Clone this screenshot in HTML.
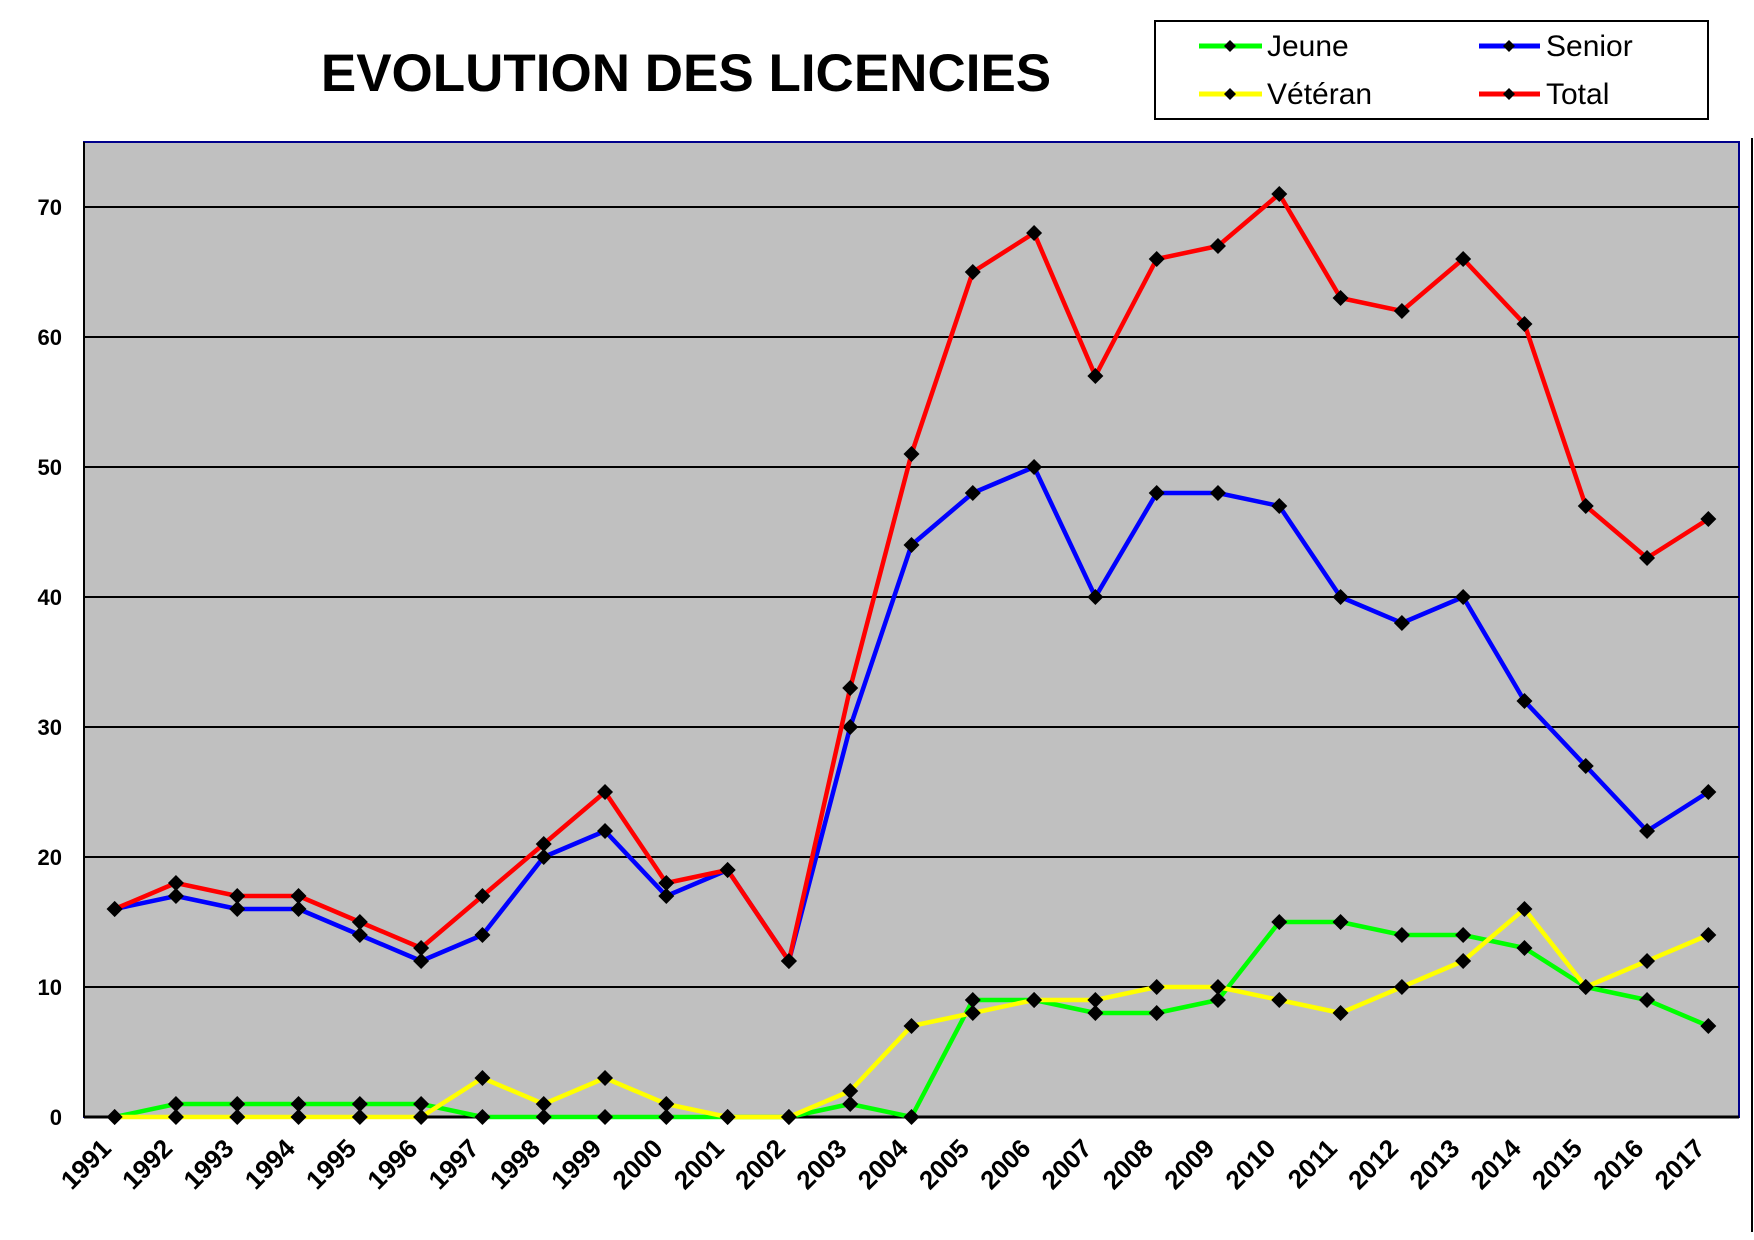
<!DOCTYPE html>
<html><head><meta charset="utf-8"><style>
html,body{margin:0;padding:0;background:#fff}
svg{display:block;font-family:"Liberation Sans",Arial,sans-serif}
</style></head><body>
<svg id="chart" width="1754" height="1240" viewBox="0 0 1754 1240">
<text x="686" y="91" text-anchor="middle" font-size="53" font-weight="bold">EVOLUTION DES LICENCIES</text>
<rect x="84" y="142" width="1655" height="975" fill="#c0c0c0" stroke="#00008b" stroke-width="2"/>
<line x1="84" y1="1117" x2="1739" y2="1117" stroke="#000" stroke-width="3"/>
<line x1="84" y1="142" x2="84" y2="1117" stroke="#000" stroke-width="2"/>
<line x1="1752" y1="138" x2="1752" y2="1232" stroke="#000" stroke-width="2"/>
<g id="grid"></g><g id="yticks"></g><g id="xticks"></g><g id="series"></g>
<g>
<rect x="1155" y="21" width="553" height="98" fill="#fff" stroke="#000" stroke-width="2"/>
<g><line x1="1199" y1="46" x2="1262" y2="46" stroke="#00ff00" stroke-width="5"/><path d="M1230,40 L1236,46 L1230,52 L1224,46Z"/><text x="1267" y="56" font-size="30">Jeune</text></g>
<g><line x1="1479" y1="46" x2="1540" y2="46" stroke="#0000ff" stroke-width="5"/><path d="M1509,40 L1515,46 L1509,52 L1503,46Z"/><text x="1546" y="56" font-size="30">Senior</text></g>
<g><line x1="1199" y1="94" x2="1262" y2="94" stroke="#ffff00" stroke-width="5"/><path d="M1230,88 L1236,94 L1230,100 L1224,94Z"/><text x="1267" y="104" font-size="30">Vétéran</text></g>
<g><line x1="1479" y1="94" x2="1540" y2="94" stroke="#ff0000" stroke-width="5"/><path d="M1509,88 L1515,94 L1509,100 L1503,94Z"/><text x="1546" y="104" font-size="30">Total</text></g>
</g>
</svg>
<script>
const years=[1991,1992,1993,1994,1995,1996,1997,1998,1999,2000,2001,2002,2003,2004,2005,2006,2007,2008,2009,2010,2011,2012,2013,2014,2015,2016,2017];
const jeune=[0,1,1,1,1,1,0,0,0,0,0,0,1,0,9,9,8,8,9,15,15,14,14,13,10,9,7];
const senior=[16,17,16,16,14,12,14,20,22,17,19,12,30,44,48,50,40,48,48,47,40,38,40,32,27,22,25];
const veteran=[0,0,0,0,0,0,3,1,3,1,0,0,2,7,8,9,9,10,10,9,8,10,12,16,10,12,14];
const total=[16,18,17,17,15,13,17,21,25,18,19,12,33,51,65,68,57,66,67,71,63,62,66,61,47,43,46];
const yTicks=[0,10,20,30,40,50,60,70];
const NS="http://www.w3.org/2000/svg";
const L=84,R=1739,T=142,B=1117,YMAX=75;
const xs=i=>L+(R-L)/years.length*(i+0.5);
const ys=v=>B-(B-T)*v/YMAX;
function mk(tag,attrs,parent){const e=document.createElementNS(NS,tag);for(const k in attrs)e.setAttribute(k,attrs[k]);parent.appendChild(e);return e;}
const grid=document.getElementById('grid'),yt=document.getElementById('yticks'),xt=document.getElementById('xticks'),sg=document.getElementById('series');
yTicks.forEach(v=>{
 if(v>0){const g=mk('line',{x1:L,x2:R,y1:ys(v),y2:ys(v),stroke:'#000','stroke-width':2},grid);
 
 }
 const t=mk('text',{x:62,y:ys(v)+8,'text-anchor':'end','font-size':22,'font-weight':'bold'},yt);
 t.textContent=v;
 
 
});
years.forEach((y,i)=>{
 const x=xs(i)-2,yy=1150;
 const t=mk('text',{x:x,y:yy,'text-anchor':'end','font-size':26,'font-weight':'bold',transform:`rotate(-45 ${x} ${yy})`},xt);
 t.textContent=y;
 
 
});
function series(name,data,color){
 const g=mk('g',{},sg);
 
 
 const pts=data.map((v,i)=>xs(i)+','+ys(v)).join(' ');
 const pl=mk('polyline',{points:pts,fill:'none',stroke:color,'stroke-width':4.5,'stroke-linejoin':'round'},g);
 
 
 data.forEach((v,i)=>{const x=xs(i),y=ys(v);
  const m=mk('path',{d:`M${x},${y-8} L${x+8},${y} L${x},${y+8} L${x-8},${y}Z`,fill:'#000'},g);
  
  
 });
}
series('jeune',jeune,'#00ff00');
series('senior',senior,'#0000ff');
series('veteran',veteran,'#ffff00');
series('total',total,'#ff0000');
</script>
</body></html>
